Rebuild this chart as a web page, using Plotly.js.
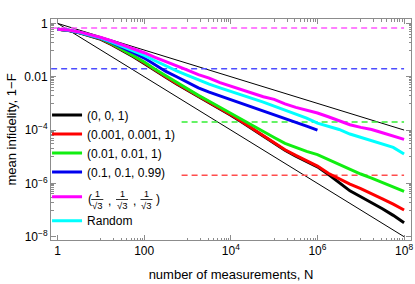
<!DOCTYPE html>
<html><head><meta charset="utf-8">
<script src="https://cdn.plot.ly/plotly-3.0.1.min.js"></script>
<style>html,body{margin:0;padding:0;background:#fff}#chart{width:415px;height:284px}</style>
</head><body><div id="chart"></div>
<script>
// number of measurements
const N = [1, 1.78, 3.16, 5.62, 10, 17.8, 31.6, 56.2, 100, 178, 316, 562,
  1e3, 1.78e3, 3.16e3, 5.62e3, 1e4, 1.78e4, 3.16e4, 5.62e4, 1e5, 1.78e5, 3.16e5, 5.62e5,
  1e6, 1.78e6, 3.16e6, 5.62e6, 1e7, 1.78e7, 3.16e7, 5.62e7, 1e8];

// mean infidelity for each initial state
const state001 = [0.603, 0.537, 0.447, 0.339, 0.251, 0.158, 0.0955, 0.0562, 0.0316, 0.0170, 0.00955, 0.00537,
  0.00316, 0.00182, 0.00107, 6.31e-4, 3.63e-4, 2.00e-4, 1.07e-4, 5.75e-5, 3.16e-5, 1.74e-5, 1.05e-5, 6.61e-6,
  4.17e-6, 2.19e-6, 1.05e-6, 5.25e-7, 3.16e-7, 1.91e-7, 1.12e-7, 6.31e-8, 3.31e-8];
const state0001 = [0.603, 0.550, 0.457, 0.347, 0.263, 0.166, 0.100, 0.0603, 0.0331, 0.0178, 0.0100, 0.00562,
  0.00331, 0.00191, 0.00112, 6.61e-4, 3.80e-4, 2.09e-4, 1.12e-4, 6.03e-5, 3.31e-5, 1.82e-5, 1.12e-5, 7.08e-6,
  4.47e-6, 2.40e-6, 1.51e-6, 9.33e-7, 6.31e-7, 4.17e-7, 2.63e-7, 1.66e-7, 1.00e-7];
const state001b = [0.603, 0.550, 0.457, 0.355, 0.269, 0.174, 0.105, 0.0631, 0.0355, 0.0191, 0.0107, 0.00603,
  0.00355, 0.00200, 0.00120, 7.08e-4, 4.17e-4, 2.40e-4, 1.41e-4, 8.32e-5, 5.25e-5, 3.16e-5, 2.24e-5, 1.58e-5,
  1.20e-5, 7.94e-6, 5.01e-6, 3.31e-6, 2.24e-6, 1.58e-6, 1.07e-6, 7.59e-7, 5.01e-7];
const Nblue = [1, 1.78, 3.16, 5.62, 10, 17.8, 31.6, 56.2, 100, 178, 316, 562,
  1e3, 1.78e3, 3.16e3, 5.62e3, 1e4, 1.78e4, 3.16e4, 5.62e4, 1e5, 1.78e5, 3.16e5, 5.62e5, 1e6];
const state01 = [0.603, 0.550, 0.457, 0.363, 0.275, 0.191, 0.126, 0.0794, 0.0501, 0.0282, 0.0158, 0.0100,
  0.00603, 0.00380, 0.00263, 0.00191, 0.00138, 0.00100, 7.08e-4, 5.01e-4, 3.80e-4, 2.63e-4, 1.91e-4, 1.41e-4, 1.00e-4];
const stateSqrt3 = [0.603, 0.562, 0.479, 0.380, 0.295, 0.219, 0.158, 0.112, 0.0794, 0.0537, 0.0380, 0.0251,
  0.0178, 0.0120, 0.00891, 0.00603, 0.00447, 0.00316, 0.00240, 0.00178, 0.00141, 9.55e-4, 7.08e-4, 5.62e-4,
  4.37e-4, 3.16e-4, 2.24e-4, 1.58e-4, 1.26e-4, 1.05e-4, 7.94e-5, 6.03e-5, 4.47e-5];
const stateRandom = [0.603, 0.562, 0.468, 0.372, 0.282, 0.200, 0.138, 0.0933, 0.0631, 0.0398, 0.0251, 0.0166,
  0.0112, 0.00759, 0.00525, 0.00380, 0.00282, 0.00200, 0.00151, 0.00112, 7.94e-4, 5.62e-4, 4.17e-4, 2.82e-4,
  1.82e-4, 1.41e-4, 1.05e-4, 7.08e-5, 5.25e-5, 3.98e-5, 3.02e-5, 2.24e-5, 1.26e-5];

// reference scaling lines 1/N and 1/sqrt(N)
const refN = [1, 1e8];
const refInvN = [1, 1e-8];
const refInvSqrtN = [1, 1e-4];

// horizontal dashed levels
const dashFullN = [0.71, 1e8];
const dashPartN = [730, 1e8];
const levelSqrt3 = 0.667;
const level01 = 0.02;
const level001 = 2e-4;
const level0001 = 2e-6;

const legendNames = ['(0, 0, 1)', '(0.001, 0.001, 1)', '(0.01, 0.01, 1)', '(0.1, 0.1, 0.99)', '\u2003', 'Random'];

const xTickVals = [1, 100, 1e4, 1e6, 1e8];
const xTickText = ['1', '100', '10<sup>4</sup>', '10<sup>6</sup>', '10<sup>8</sup>'];
const yTickVals = [1, 0.01, 1e-4, 1e-6, 1e-8];
const yTickText = ['1', '0.01', '10<sup>−4</sup>', '10<sup>−6</sup>', '10<sup>−8</sup>'];

const xMinor = [], yMinor = [];
[1, 3, 5, 7].forEach(e => { for (let k = 1; k <= 9; k++) { xMinor.push(k * Math.pow(10, e)); yMinor.push(k * Math.pow(10, -e)); } });

const thin = {color: '#000', width: 1};
const traces = [
  {x: refN, y: refInvN, mode: 'lines', line: thin, showlegend: false, hoverinfo: 'skip'},
  {x: refN, y: refInvSqrtN, mode: 'lines', line: thin, showlegend: false, hoverinfo: 'skip'},
  {x: dashFullN, y: [levelSqrt3, levelSqrt3], mode: 'lines', line: {color: '#ff55ff', width: 1.5, dash: '6px,4px'}, showlegend: false},
  {x: dashFullN, y: [level01, level01], mode: 'lines', line: {color: '#4d4dff', width: 1.5, dash: '6px,4px'}, showlegend: false},
  {x: dashPartN, y: [level001, level001], mode: 'lines', line: {color: '#33ee33', width: 1.5, dash: '6px,4px'}, showlegend: false},
  {x: dashPartN, y: [level0001, level0001], mode: 'lines', line: {color: '#ff4d4d', width: 1.5, dash: '6px,4px'}, showlegend: false},
  {x: N, y: state001, name: legendNames[0], legend: 'legend', mode: 'lines', line: {color: '#000000', width: 3}},
  {x: N, y: state0001, name: legendNames[1], legend: 'legend', mode: 'lines', line: {color: '#ff0000', width: 3}},
  {x: N, y: state001b, name: legendNames[2], legend: 'legend', mode: 'lines', line: {color: '#11ee11', width: 3}},
  {x: Nblue, y: state01, name: legendNames[3], legend: 'legend', mode: 'lines', line: {color: '#0000ee', width: 3}},
  {x: N, y: stateRandom, name: legendNames[5], legend: 'legend3', mode: 'lines', line: {color: '#00ffff', width: 3}},
  {x: N, y: stateSqrt3, name: legendNames[4], legend: 'legend2', mode: 'lines', line: {color: '#ff00ff', width: 3}}
];

// stacked-fraction label (1/√3, 1/√3, 1/√3) for the magenta legend entry, placed in pixels
const px = v => (v - 51) / 360, py = v => (240 - v) / 221;
const txt = (x, y, t, s) => ({xref: 'paper', yref: 'paper', x: px(x), y: py(y), text: t, showarrow: false,
  xanchor: 'center', yanchor: 'middle', font: {size: s, color: '#000'}});
const annotations = [txt(89.5, 198.5, '(', 12), txt(157.8, 198.5, ')', 12),
  txt(109.5, 200.5, ',', 12), txt(134, 200.5, ',', 12)];
const shapes = [];
[97.3, 122, 146.5].forEach(cx => {
  annotations.push(txt(cx, 193.8, '1', 9));
  annotations.push(txt(cx, 205.5, '√3', 9.5));
  shapes.push({type: 'line', xref: 'paper', yref: 'paper', x0: px(cx - 6), x1: px(cx + 6), y0: py(199.5), y1: py(199.5),
    line: {color: '#000', width: 0.8}});
});

const axisCommon = {
  type: 'log', showgrid: false, zeroline: false, showline: true, linecolor: '#8c8c8c', linewidth: 1,
  mirror: 'ticks', ticks: 'inside', ticklen: 5, tickcolor: '#8c8c8c', tickwidth: 1,
  tickmode: 'array', tickfont: {size: 12, color: '#000'}
};
const legendCommon = {x: -0.011, xanchor: 'left', yanchor: 'top', bgcolor: 'rgba(0,0,0,0)', font: {size: 12}};

const layout = {
  width: 415, height: 284,
  margin: {l: 51, r: 4, t: 19, b: 44, pad: 0},
  paper_bgcolor: '#fff', plot_bgcolor: '#fff',
  font: {family: 'Liberation Sans, Arial, Helvetica, sans-serif', size: 12, color: '#000'},
  xaxis: Object.assign({}, axisCommon, {
    range: [-0.152, 8.16], tickvals: xTickVals, ticktext: xTickText,
    minor: {tickmode: 'array', tickvals: xMinor, ticks: 'inside', ticklen: 2.5, tickcolor: '#8c8c8c'},
    title: {text: 'number of measurements, N', font: {size: 13}, standoff: 12}
  }),
  yaxis: Object.assign({}, axisCommon, {
    range: [-8.124, 0.165], tickvals: yTickVals, ticktext: yTickText,
    minor: {tickmode: 'array', tickvals: yMinor, ticks: 'inside', ticklen: 2.5, tickcolor: '#8c8c8c'},
    title: {text: 'mean infidelity, 1−F', font: {size: 13}, standoff: 4}
  }),
  legend: Object.assign({}, legendCommon, {y: 0.6311}),
  legend2: Object.assign({}, legendCommon, {y: 0.2615}),
  legend3: Object.assign({}, legendCommon, {y: 0.1529}),
  annotations: annotations,
  shapes: shapes,
  showlegend: true
};

Plotly.newPlot('chart', traces, layout, {displayModeBar: false, staticPlot: true});
</script>
</body></html>
